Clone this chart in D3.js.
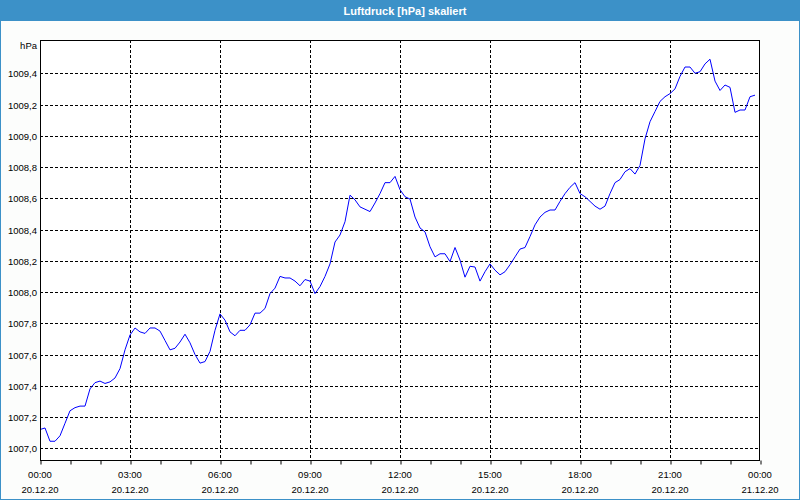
<!DOCTYPE html>
<html><head><meta charset="utf-8">
<script src="https://cdn.jsdelivr.net/npm/d3@7"></script>
<style>
html,body{margin:0;padding:0;background:#fff;}
svg{display:block;}
text{font-family:Tahoma,"Liberation Sans",Arial,sans-serif;}
</style></head>
<body>
<script>
const titleText = "Luftdruck [hPa] skaliert";
const unitLabel = "hPa";
const startTime = "2020-12-20T00:00:00";
const endTime = "2020-12-21T00:00:00";
const stepMinutes = 10;
const yTicks = [1007.0, 1007.2, 1007.4, 1007.6, 1007.8, 1008.0, 1008.2, 1008.4, 1008.6, 1008.8, 1009.0, 1009.2, 1009.4];
const yDomain = [1006.925, 1009.613];
const pressure = [
1007.12,1007.13,1007.045,1007.045,1007.08,1007.16,1007.24,1007.26,1007.27,1007.27,
1007.38,1007.42,1007.43,1007.415,1007.425,1007.45,1007.51,1007.63,1007.725,1007.77,
1007.745,1007.735,1007.77,1007.77,1007.75,1007.69,1007.63,1007.64,1007.68,1007.73,
1007.675,1007.60,1007.545,1007.555,1007.62,1007.755,1007.86,1007.82,1007.745,1007.72,
1007.755,1007.755,1007.79,1007.865,1007.865,1007.895,1007.99,1008.025,1008.10,1008.09,
1008.09,1008.07,1008.04,1008.08,1008.07,1007.99,1008.035,1008.10,1008.18,1008.32,
1008.365,1008.45,1008.62,1008.59,1008.545,1008.53,1008.515,1008.57,1008.63,1008.70,
1008.70,1008.74,1008.655,1008.61,1008.595,1008.48,1008.41,1008.385,1008.29,1008.225,
1008.245,1008.245,1008.195,1008.285,1008.205,1008.095,1008.165,1008.16,1008.07,1008.13,
1008.18,1008.14,1008.11,1008.13,1008.175,1008.225,1008.275,1008.285,1008.355,1008.43,
1008.48,1008.51,1008.525,1008.525,1008.58,1008.63,1008.67,1008.70,1008.63,1008.61,
1008.58,1008.55,1008.53,1008.55,1008.63,1008.70,1008.72,1008.77,1008.79,1008.755,
1008.81,1008.98,1009.09,1009.155,1009.22,1009.25,1009.27,1009.30,1009.38,1009.44,
1009.44,1009.40,1009.41,1009.46,1009.49,1009.35,1009.29,1009.325,1009.31,1009.15,
1009.165,1009.165,1009.25,1009.26
];

const W = 800, H = 500;
const blue = "#3c91c8";
const plot = {left: 40, top: 40, right: 760, bottom: 460};

const t0 = new Date(startTime), t1 = new Date(endTime);
const data = pressure.map((v, i) => ({t: d3.timeMinute.offset(t0, i * stepMinutes), v}));

const svg = d3.select("body").append("svg").attr("width", W).attr("height", H);

// background and frame
svg.append("rect").attr("x", 0).attr("y", 0).attr("width", W).attr("height", H).attr("fill", "#fcfdfc");
svg.append("rect").attr("x", 0.5).attr("y", 0.5).attr("width", W - 1).attr("height", H - 1)
  .attr("fill", "none").attr("stroke", blue).attr("stroke-width", 1);
svg.append("rect").attr("x", 0).attr("y", 0).attr("width", W).attr("height", 21).attr("fill", blue);
svg.append("text").attr("x", 405).attr("y", 10.5).attr("text-anchor", "middle")
  .attr("dominant-baseline", "central").attr("fill", "#fff").attr("font-weight", "bold")
  .attr("font-size", "11px").text(titleText);

const x = d3.scaleTime().domain([t0, t1]).range([plot.left, plot.right]);
const y = d3.scaleLinear().domain(yDomain).range([plot.bottom, plot.top]);

svg.append("rect").attr("x", plot.left).attr("y", plot.top)
  .attr("width", plot.right - plot.left).attr("height", plot.bottom - plot.top).attr("fill", "#ffffff");

// horizontal grid
svg.append("g").selectAll("line").data(yTicks).join("line")
  .attr("x1", plot.left).attr("x2", plot.right)
  .attr("y1", d => Math.round(y(d)) + 0.5).attr("y2", d => Math.round(y(d)) + 0.5)
  .attr("stroke", "#000").attr("stroke-dasharray", "3,2").attr("stroke-width", 1);

// vertical grid at 3h
const majorTimes = d3.timeHour.every(3).range(t0, d3.timeMinute.offset(t1, 1));
svg.append("g").selectAll("line").data(majorTimes.filter(d => +d > +t0 && +d < +t1)).join("line")
  .attr("x1", d => Math.round(x(d)) + 0.5).attr("x2", d => Math.round(x(d)) + 0.5)
  .attr("y1", plot.top).attr("y2", plot.bottom)
  .attr("stroke", "#000").attr("stroke-dasharray", "3,2").attr("stroke-width", 1);

// data line
const line = d3.line().x(d => x(d.t)).y(d => y(d.v));
svg.append("path").datum(data).attr("d", line)
  .attr("fill", "none").attr("stroke", "#0000ff").attr("stroke-width", 1);

// plot frame
svg.append("rect").attr("x", plot.left + 0.5).attr("y", plot.top + 0.5)
  .attr("width", plot.right - plot.left - 1).attr("height", plot.bottom - plot.top)
  .attr("fill", "none").attr("stroke", "#000").attr("stroke-width", 1);

// x axis
const xAxis = d3.axisBottom(x).ticks(d3.timeHour.every(1)).tickSize(4).tickFormat("");
const gx = svg.append("g").attr("transform", `translate(0.5,${plot.bottom + 0.5})`).call(xAxis);
gx.select(".domain").remove();
gx.selectAll("line").attr("stroke", "#000");

const fmtTime = d3.timeFormat("%H:%M"), fmtDate = d3.timeFormat("%d.%m.%y");
const xl = svg.append("g").selectAll("g").data(majorTimes).join("g")
  .attr("transform", d => `translate(${x(d)},0)`);
xl.append("text").attr("y", 474).attr("text-anchor", "middle").attr("dominant-baseline", "central")
  .attr("font-size", "9.5px").attr("fill", "#000").text(d => fmtTime(d));
xl.append("text").attr("y", 489).attr("text-anchor", "middle").attr("dominant-baseline", "central")
  .attr("font-size", "9.5px").attr("fill", "#000").text(d => fmtDate(d));

// y labels
const fmtY = v => d3.format(".1f")(v).replace(".", ",");
svg.append("g").selectAll("text").data(yTicks).join("text")
  .attr("x", 37).attr("y", d => y(d) + 0.5).attr("text-anchor", "end").attr("dominant-baseline", "central")
  .attr("font-size", "9.5px").attr("fill", "#000").text(fmtY);
svg.append("text").attr("x", 37).attr("y", 45).attr("text-anchor", "end").attr("dominant-baseline", "central")
  .attr("font-size", "9.5px").attr("fill", "#000").text(unitLabel);
</script>
</body></html>
